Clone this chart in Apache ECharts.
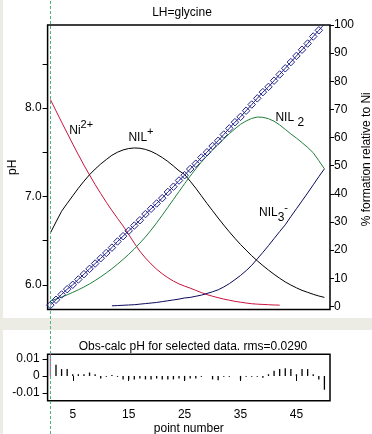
<!DOCTYPE html>
<html><head><meta charset="utf-8">
<script src="https://cdn.jsdelivr.net/npm/echarts@6/dist/echarts.min.js"></script>
<style>html,body{margin:0;padding:0;background:#fff}#c{width:372px;height:434px}</style>
</head><body><div id="c"></div>
<script>
// ---- data ----
const points = [1,2,3,4,5,6,7,8,9,10,11,12,13,14,15,16,17,18,19,20,21,22,23,24,25,26,27,28,29,30,31,32,33,34,35,36,37,38,39,40,41,42,43,44,45,46,47,48,49,50];
const pH = [5.77,5.83,5.89,5.95,6.00,6.06,6.12,6.18,6.24,6.30,6.36,6.42,6.49,6.55,6.61,6.67,6.73,6.80,6.86,6.92,6.98,7.05,7.11,7.18,7.24,7.31,7.37,7.44,7.50,7.57,7.63,7.70,7.77,7.84,7.90,7.97,8.04,8.11,8.18,8.24,8.31,8.38,8.45,8.52,8.59,8.66,8.73,8.81,8.88,8.95];
const ni2 = [73.5,69.5,65.5,61.6,57.7,53.9,50.2,46.7,43.3,40.1,37.0,34.1,31.3,28.6,25.6,22.5,19.6,17.2,15.1,13.2,11.6,10.2,9.0,8.0,7.2,6.5,5.7,4.9,4.2,3.6,3.1,2.6,2.2,1.8,1.5,1.2,0.95,0.8,0.7,0.6,0.5,0.45,null,null,null,null,null,null,null,null];
const nil1 = [26.1,30.0,33.8,36.6,39.3,42.0,44.5,46.8,48.8,50.6,52.2,53.7,54.8,55.6,56.1,56.3,56.2,55.8,55.1,54.1,52.9,51.5,49.9,48.2,46.9,44.5,42.0,39.3,36.6,34.0,31.4,28.9,26.5,24.2,22.0,20.0,18.0,16.2,14.5,12.9,11.4,10.0,8.7,7.6,6.6,5.7,5.0,4.3,3.7,3.2];
const nil2 = [2.0,2.6,3.3,4.1,5.0,5.9,6.9,8.0,9.2,10.5,11.9,13.4,15.0,16.7,18.5,20.4,22.5,24.7,27.1,29.7,32.4,35.2,38.0,40.8,43.6,46.3,48.9,51.3,53.5,55.6,57.6,59.5,61.4,63.1,64.7,65.9,66.8,67.3,67.2,66.7,65.8,64.5,62.9,61.3,59.8,58.2,56.5,54.6,51.8,48.9];
const nil3 = [null,null,null,null,null,null,null,null,null,null,null,0.2,0.3,0.4,0.5,0.6,0.8,1.0,1.2,1.4,1.7,2.0,2.3,2.6,3.0,3.2,3.6,4.0,4.6,5.2,5.9,6.9,8.1,9.5,11.0,12.7,14.6,16.9,19.2,21.6,24.1,26.6,29.0,31.9,34.7,37.5,40.3,43.2,46.1,48.9];
const residuals = [0.013,0.0065,0.004,0.004,0.001,0.001,0.001,0.002,0.001,-0.0015,-0.0005,0.0005,-0.0005,-0.002,-0.002,-0.002,-0.0015,-0.002,-0.002,-0.0015,-0.002,-0.002,-0.002,-0.0015,-0.0025,-0.0015,-0.0015,-0.0005,0,-0.002,-0.0025,-0.0005,-0.0005,0,-0.002,-0.0005,-0.0005,-0.0005,-0.001,0.001,0.003,0.004,0.0045,0.004,0.001,0.004,0.004,0.001,-0.002,-0.008];
const selectedPoint = [1];
const pctTicks = [0,10,20,30,40,50,60,70,80,90,100];
const pHTicks = [6,6.5,7,7.5,8,8.5];
const pHLabels = [6,7,8];
const resTicks = [-0.01,0,0.01];
const xTicks = [5,15,25,35,45];
const labels = {
  ni2: {pos:[6.5,62.5], text:'{a|Ni}{sup|2+}'},
  nil1:{pos:[17.2,59.9], text:'{a|NIL}{sup|+}'},
  nil2:{pos:[43.8,67.2], text:'{a|NIL }{sub|2}'},
  nil3:{pos:[40.9,33.2], text:'{a|NIL}{sub|3}{sup|-}'}
};
// ---- chart ----
const FONT = '"Liberation Sans", Arial, sans-serif';
const pair = arr => points.map((p,i)=>[p, arr[i]]);
const rich = {
  a:{fontSize:12,lineHeight:22,color:'#000',fontFamily:FONT},
  sup:{fontSize:11,lineHeight:11,verticalAlign:'top',color:'#000',fontFamily:FONT},
  sub:{fontSize:12,lineHeight:12,verticalAlign:'bottom',color:'#000',fontFamily:FONT}
};
function mp(l){
  return {silent:true,symbol:'circle',symbolSize:1,itemStyle:{color:'rgba(0,0,0,0)'},
    label:{show:true,position:'inside',formatter:l.text,rich:rich,color:'#000'},
    data:[{coord:l.pos}]};
}
const chart = echarts.init(document.getElementById('c'),null,{renderer:'canvas'});
const hidden = {show:false};
chart.setOption({
  animation:false,
  backgroundColor:'#fff',
  textStyle:{fontFamily:FONT,color:'#000'},
  graphic:[
    {type:'rect',z:-10,shape:{x:0,y:0,width:3,height:434},style:{fill:'#ecebe4'}},
    {type:'rect',z:-10,shape:{x:0,y:318,width:372,height:12},style:{fill:'#ecebe4'}}
  ],
  title:[
    {text:'LH=glycine',left:177,top:2,textAlign:'center',textStyle:{fontSize:12,fontWeight:'normal',color:'#000',fontFamily:FONT}},
    {text:'Obs-calc pH for selected data. rms=0.0290',left:188,top:336,textAlign:'center',textStyle:{fontSize:12,fontWeight:'normal',color:'#000',fontFamily:FONT}}
  ],
  grid:[
    {left:47.6,right:42,top:25,height:284.5,show:true,borderColor:'#000',borderWidth:1.5,backgroundColor:'transparent',outerBoundsMode:'none',containLabel:false},
    {left:47.6,right:42,top:354.3,height:46.4,show:true,borderColor:'#000',borderWidth:1.5,backgroundColor:'transparent',outerBoundsMode:'none',containLabel:false},
    {left:47.6,right:42,top:0,bottom:0,outerBoundsMode:'none',containLabel:false}
  ],
  xAxis:[
    {gridIndex:0,type:'value',min:0.5,max:51,axisLine:hidden,axisTick:hidden,axisLabel:hidden,splitLine:hidden},
    {gridIndex:1,type:'value',min:0.5,max:51,axisLine:hidden,splitLine:hidden,
      axisTick:{show:true,length:5,customValues:xTicks,lineStyle:{color:'#000'}},
      axisLabel:{show:true,customValues:xTicks,fontSize:12,margin:8,color:'#000'},
      name:'point number',nameLocation:'middle',nameGap:22,nameMoveOverlap:false,nameTextStyle:{fontSize:12,color:'#000'}},
    {gridIndex:2,type:'value',min:0.5,max:51,show:false}
  ],
  yAxis:[
    {gridIndex:0,type:'value',position:'left',min:5.72,max:8.94,axisLine:hidden,splitLine:hidden,
      axisTick:{show:true,length:5,customValues:pHTicks,lineStyle:{color:'#000'}},
      axisLabel:{show:true,customValues:pHLabels,formatter:v=>v.toFixed(1),fontSize:12,margin:6,color:'#000'},
      name:'pH',nameLocation:'middle',nameGap:29,nameRotate:90,nameMoveOverlap:false,nameTextStyle:{fontSize:12,color:'#000'}},
    {gridIndex:0,type:'value',position:'right',min:-1.1,max:100,axisLine:hidden,splitLine:hidden,
      axisTick:{show:true,length:4,customValues:pctTicks,lineStyle:{color:'#000'}},
      axisLabel:{show:true,customValues:pctTicks,fontSize:12,margin:4,color:'#000'},
      name:'% formation relative to Ni',nameLocation:'middle',nameGap:31,nameRotate:90,nameMoveOverlap:false,
      nameTextStyle:{fontSize:12,color:'#000',padding:[0,0,0,16]}},
    {gridIndex:1,type:'value',min:-0.0144,max:0.0126,axisLine:hidden,splitLine:hidden,
      axisTick:{show:true,length:5,customValues:resTicks,lineStyle:{color:'#000'}},
      axisLabel:{show:true,customValues:resTicks,formatter:v=>v===0?'0':v.toFixed(2),fontSize:12,margin:8,color:'#000'}},
    {gridIndex:2,type:'value',min:0,max:1,show:false}
  ],
  series:[
    {name:'Ni2+',type:'line',xAxisIndex:0,yAxisIndex:1,data:pair(ni2),showSymbol:false,connectNulls:false,
      lineStyle:{color:'#c8143c',width:1},itemStyle:{color:'#c8143c'},markPoint:mp(labels.ni2)},
    {name:'NIL+',type:'line',xAxisIndex:0,yAxisIndex:1,data:pair(nil1),showSymbol:false,
      lineStyle:{color:'#000',width:1},itemStyle:{color:'#000'},markPoint:mp(labels.nil1)},
    {name:'NIL2',type:'line',xAxisIndex:0,yAxisIndex:1,data:pair(nil2),showSymbol:false,
      lineStyle:{color:'#1f7f3a',width:1},itemStyle:{color:'#1f7f3a'},markPoint:mp(labels.nil2)},
    {name:'NIL3-',type:'line',xAxisIndex:0,yAxisIndex:1,data:pair(nil3),showSymbol:false,
      lineStyle:{color:'#0a0a5a',width:1},itemStyle:{color:'#0a0a5a'},markPoint:mp(labels.nil3)},
    {name:'pH',type:'line',xAxisIndex:0,yAxisIndex:0,data:pair(pH),symbol:'diamond',symbolSize:7.5,showSymbol:true,
      lineStyle:{color:'#24248c',width:1},itemStyle:{color:'rgba(255,255,255,0)',borderColor:'#24248c',borderWidth:1},z:5},
    {name:'residual',type:'bar',xAxisIndex:1,yAxisIndex:2,data:pair(residuals),barWidth:1.3,
      itemStyle:{color:p=>selectedPoint.includes(p.value[0])?'#c060b0':'#000'}},
    {name:'selected',type:'line',xAxisIndex:2,yAxisIndex:3,data:[],silent:true,
      markLine:{symbol:'none',silent:true,label:{show:false},lineStyle:{color:'#4cb47a',type:[3,2],width:1},
        data:selectedPoint.map(p=>({xAxis:p}))},z:10}
  ]
});
</script></body></html>
